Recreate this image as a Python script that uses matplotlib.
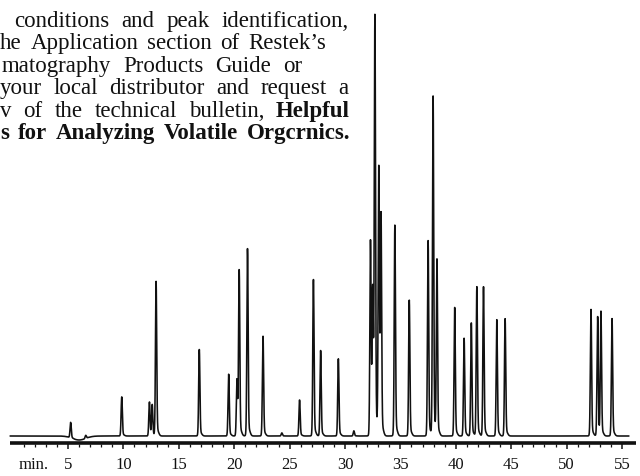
import numpy as np
import matplotlib.pyplot as plt

# retention time (min) and peak height (arbitrary units, baseline = 0)
rt = [5.24, 6.6, 9.85, 12.35, 12.6, 12.95, 16.85, 19.5, 20.25, 20.45, 21.2,
      22.6, 24.3, 25.9, 27.15, 27.8, 29.4, 30.8, 32.3, 32.5, 32.7, 33.05,
      33.25, 34.5, 35.8, 37.5, 37.95, 38.3, 39.9, 40.75, 41.4, 41.9, 42.5,
      43.7, 44.45, 52.2, 52.8, 53.1, 54.1]
height = [15, 3, 38, 33, 30, 150, 84, 60, 55, 160, 182,
          97, 3, 35, 152, 83, 75, 5, 190, 140, 405, 260,
          210, 205, 132, 190, 330, 170, 125, 95, 110, 145, 145,
          113, 114, 123, 116, 120, 114]

tick_minutes = [5, 10, 15, 20, 25, 30, 35, 40, 45, 50, 55]

text_lines = [
    ["conditions", "and", "peak", "identification,"],
    ["he", "Application", "section", "of", "Restek\u2019s"],
    ["matography", "Products", "Guide", "or"],
    ["your", "local", "distributor", "and", "request", "a"],
    ["v", "of", "the", "technical", "bulletin,", "Helpful"],
    ["s", "for", "Analyzing", "Volatile", "Orgcrnics."],
]
line_bold_from = [99, 99, 99, 99, 5, 0]
line_x0 = [14, 0, 2, 0, 0, 0]
line_x1 = [349, 326, 302, 348, 350, 350]

W, H = 640, 477
fig = plt.figure(figsize=(W / 100, H / 100), dpi=100)
ax = fig.add_axes([0, 0, 1, 1])
px_per_min = 11.08
x0_px = 12.6
ax.set_xlim(-x0_px / px_per_min, (W - x0_px) / px_per_min)
ax.set_ylim(-40, 437)
ax.axis("off")

# build trace from the peak table
t = np.linspace(-0.2, 55.6, 8000)
trace = np.zeros_like(t)
for r, h in zip(rt, height):
    trace += h * np.exp(-0.5 * ((t - r) / 0.055) ** 2)
    trace += 0.04 * h * np.exp(-0.5 * ((t - r - 0.1) / 0.13) ** 2)
trace -= 4 * np.exp(-0.5 * ((t - 6.0) / 0.6) ** 2)
ax.plot(t, trace, color="#111111", lw=1.15)

# time axis
ax.plot([-0.25, 56.3], [-7, -7], color="#111111", lw=2.6, solid_capstyle="butt")
minor = [m for m in range(1, 56) if m % 5]
ax.vlines(minor, -8, -11, color="#111111", lw=0.9)
ax.vlines(tick_minutes, -8, -13, color="#111111", lw=1.1)

for m in tick_minutes:
    ax.text(m, -28, str(m), ha="center", va="center",
            family="Liberation Serif", fontsize=12, color="#111111")
ax.text(-1.137 + 34 / px_per_min, -28, "min.", ha="center", va="center",
        family="Liberation Serif", fontsize=12, color="#111111")

# justified text block in the top-left corner
renderer = fig.canvas.get_renderer()
for i, words in enumerate(text_lines):
    y_base = 27 + 22.4 * i
    items = []
    for j, w in enumerate(words):
        weight = "bold" if j >= line_bold_from[i] else "normal"
        txt = fig.text(0, 1 - y_base / H, w, family="Liberation Serif",
                       fontsize=16.5, weight=weight, va="baseline", color="#111111")
        items.append((txt, txt.get_window_extent(renderer).width))
    total = sum(wd for _, wd in items)
    gap = (line_x1[i] - line_x0[i] - total) / max(len(items) - 1, 1)
    x = line_x0[i]
    for txt, wd in items:
        txt.set_x(x / W)
        x += wd + gap

fig.savefig("out.png", dpi=100)
